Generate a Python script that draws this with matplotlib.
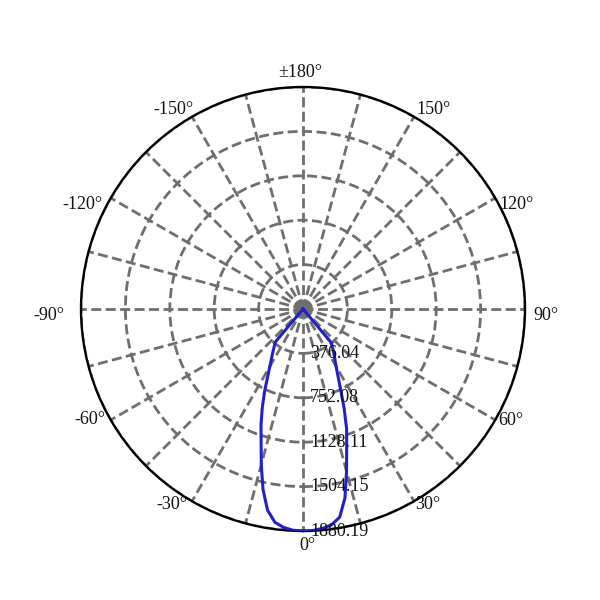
import numpy as np
import matplotlib
matplotlib.use("Agg")
import matplotlib.pyplot as plt

plt.rcParams['font.family'] = ['Liberation Serif', 'DejaVu Serif']

# ---- data ----
angles_deg = [-180, -45, -40, -35, -30, -25, -22.5, -20, -17.5, -15, -12.5, -10, -7.5, -5, -2.5,
              0, 2.5, 5, 7.5, 10, 12.5, 15, 17.5, 20, 22.5, 25, 30, 35, 40, 45, 180]
intensity = [0, 0, 365, 445, 562, 770, 900, 1040, 1180, 1365, 1565, 1730, 1822, 1858, 1876,
             1880.19, 1878, 1866, 1845, 1790, 1640, 1425, 1230, 1080, 910, 755, 560, 455, 375, 0, 0]
r_ticks = [376.04, 752.08, 1128.11, 1504.15, 1880.19]
r_tick_labels = ["376.04", "752.08", "1128.11", "1504.15", "1880.19"]
theta_label_angles = [0, 30, 60, 90, 120, 150, 180, -150, -120, -90, -60, -30]
theta_labels = ["0°", "30°", "60°", "90°", "120°", "150°", "±180°", "-150°", "-120°", "-90°", "-60°", "-30°"]

# ---- figure ----
fig = plt.figure(figsize=(6, 6), dpi=100)
ax = fig.add_axes([0.135, 0.115, 0.74, 0.74], projection='polar')
ax.set_theta_zero_location('S')
ax.set_theta_direction(1)
rmax = r_ticks[-1]
ax.set_ylim(0, rmax)

grid_color = '#6e6e6e'
ax.set_thetagrids(np.arange(0, 360, 15), labels=[])
ax.set_rgrids(r_ticks, labels=[])
ax.grid(True, color=grid_color, linestyle=(0, (3.6, 1.6)), linewidth=2.0)
ax.spines['polar'].set_linewidth(1.7)
ax.spines['polar'].set_color('black')
ax.tick_params(axis='both', length=0, pad=0)

# curve
ax.plot(np.deg2rad(angles_deg), intensity, color='#2420C8', linewidth=2.2, zorder=5)

# radial labels
for r, lab in zip(r_ticks, r_tick_labels):
    ax.annotate(lab, xy=(0, r), xytext=(5, 0), textcoords='offset points',
                ha='left', va='center', fontsize=13, color='#111111', zorder=6)

# angle labels (offsets in points)
offsets = {0: (3, -4, 'center', 'top'),
           30: (1, -2, 'left', 'center'),
           60: (2, 0, 'left', 'center'),
           90: (6, -5, 'left', 'center'),
           120: (3, -5, 'left', 'center'),
           150: (2, 5, 'left', 'center'),
           180: (-2, 4, 'center', 'bottom'),
           -150: (1, 5, 'right', 'center'),
           -120: (-6, -5, 'right', 'center'),
           -90: (-12, -5, 'right', 'center'),
           -60: (-4, 0, 'right', 'center'),
           -30: (-3, -2, 'right', 'center')}
for a, lab in zip(theta_label_angles, theta_labels):
    dx, dy, ha, va = offsets[a]
    ax.annotate(lab, xy=(np.deg2rad(a), rmax), xytext=(dx, dy), textcoords='offset points',
                ha=ha, va=va, fontsize=13, color='#111111', annotation_clip=False)

fig.savefig('out.png', dpi=100)
